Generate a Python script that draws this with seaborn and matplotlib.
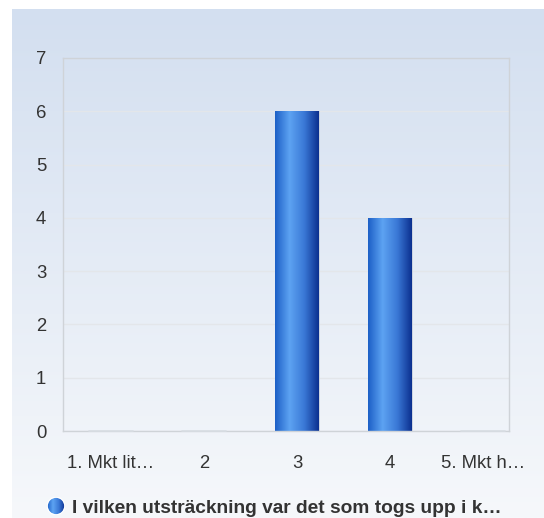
import numpy as np
import matplotlib
matplotlib.use("Agg")
import matplotlib.pyplot as plt
import matplotlib.colors as mcolors
import seaborn as sns
import pandas as pd

categories = ["1. Mkt lit\u2026", "2", "3", "4", "5. Mkt h\u2026"]
counts = [0, 0, 6, 4, 0]
series_name = "I vilken utstr\u00e4ckning var det som togs upp i k\u2026"
y_ticks = [0, 1, 2, 3, 4, 5, 6, 7]

sns.set_theme(style="white")
plt.rcParams["font.family"] = ["Liberation Sans", "DejaVu Sans"]

TEXT = "#333333"
GRID = "#e3e6ea"
FRAME = "#cfd3d8"

bar_cmap = mcolors.LinearSegmentedColormap.from_list(
    "bar", ["#1c5fc6", "#5da3f2", "#3a78d6", "#0b2f8f"], N=256)
bg_cmap = mcolors.LinearSegmentedColormap.from_list(
    "bg", ["#f6f8fb", "#d3dff0"], N=256)

fig = plt.figure(figsize=(5.44, 5.18), dpi=100, facecolor="white")

# gradient panel behind everything
bg = fig.add_axes([12 / 544, 0, 532 / 544, 1 - 9 / 518], zorder=0)
bg.imshow(np.linspace(0, 1, 256).reshape(-1, 1), aspect="auto",
          cmap=bg_cmap, origin="lower", extent=[0, 1, 0, 1])
bg.axis("off")

ax = fig.add_axes([63 / 544, 1 - 431 / 518, 446 / 544, 373 / 518], zorder=1)
ax.patch.set_alpha(0)

df = pd.DataFrame({"cat": categories, "n": counts})
sns.barplot(data=df, x="cat", y="n", ax=ax, width=0.47,
            color="#2a6ad0", edgecolor="#c8d0dc", linewidth=0.6)

ax.set_xlim(-0.516, 4.28)
ax.set_ylim(0, 7)
ax.set_yticks(y_ticks)
ax.set_xlabel("")
ax.set_ylabel("")
ax.grid(axis="y", color=GRID, linewidth=1)
ax.set_axisbelow(True)
for s in ax.spines.values():
    s.set_visible(True)
    s.set_color(FRAME)
    s.set_linewidth(1)
ax.tick_params(axis="both", length=0, labelsize=13.3, colors=TEXT)
ax.tick_params(axis="x", pad=17)
ax.tick_params(axis="y", pad=12)

# horizontal gradient fill on each bar
grad = np.linspace(0, 1, 256).reshape(1, -1)
for p in ax.patches:
    h = p.get_height()
    x0 = p.get_x()
    w = p.get_width()
    if h > 0:
        p.set_facecolor("none")
        im = ax.imshow(grad, aspect="auto", cmap=bar_cmap,
                       extent=[x0, x0 + w, 0, h], zorder=p.get_zorder())
        im.set_clip_path(p)
    else:
        ax.plot([x0, x0 + w], [0.005, 0.005], color="#d8dde3", lw=1.2,
                zorder=3, clip_on=False)

# legend
fig.text(72 / 544, 1 - 513 / 518, series_name, ha="left", va="baseline",
         fontsize=13.8, fontweight="bold", color=TEXT)
lg = fig.add_axes([47 / 544, 1 - 515 / 518, 18 / 544, 18 / 518], zorder=2)
lg.set_xlim(-1, 1)
lg.set_ylim(-1, 1)
lg.axis("off")
circ = plt.Circle((0, 0), 0.98, transform=lg.transData, facecolor="none")
lg.add_patch(circ)
im2 = lg.imshow(grad, aspect="auto", cmap=bar_cmap, extent=[-1, 1, -1, 1])
im2.set_clip_path(circ)

fig.savefig("out.png", dpi=100, facecolor="white")
